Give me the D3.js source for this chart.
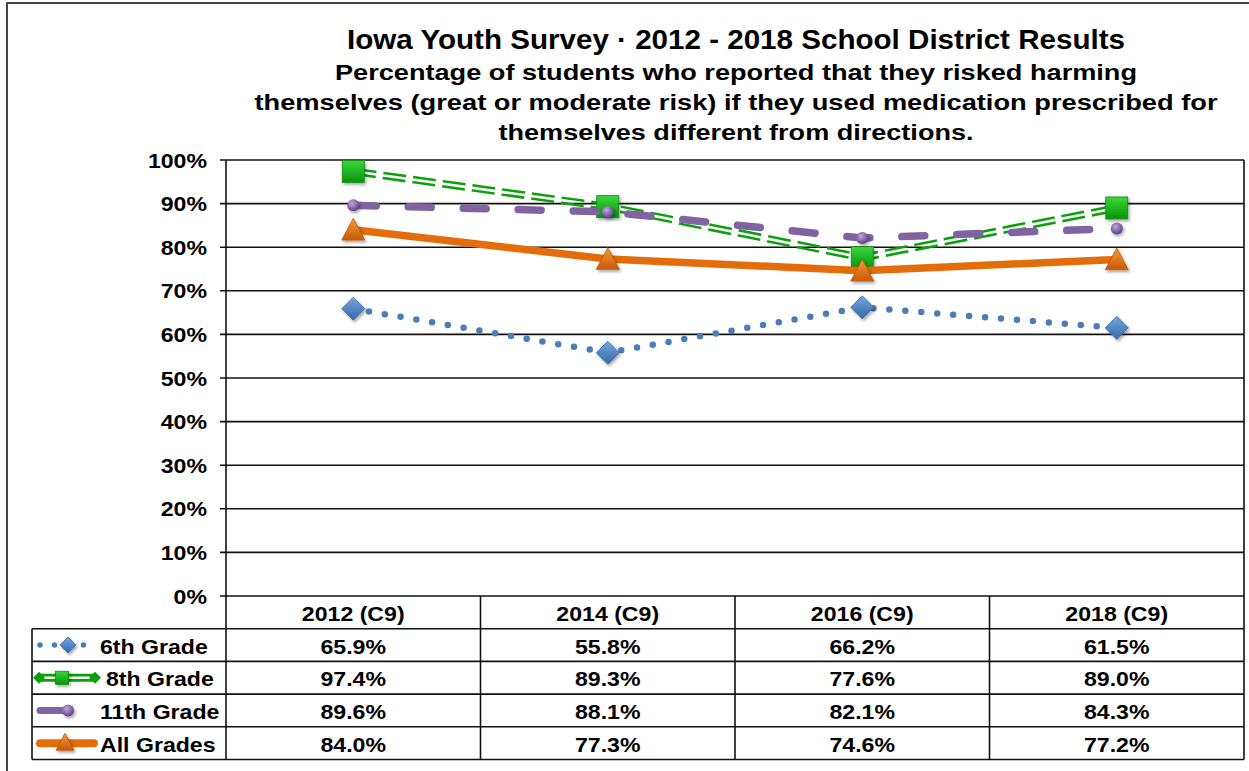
<!DOCTYPE html>
<html><head><meta charset="utf-8">
<script src="https://cdn.jsdelivr.net/npm/d3@7"></script>
<style>
html,body{margin:0;padding:0;background:#fff;}
svg text{font-family:"Liberation Sans",Arial,sans-serif;font-weight:bold;fill:#000;}
</style></head>
<body>
<svg id="chart" width="1249" height="771"></svg>
<script>
// ---- data ----
const categories = ["2012 (C9)", "2014 (C9)", "2016 (C9)", "2018 (C9)"];
const seriesNames = ["6th Grade", "8th Grade", "11th Grade", "All Grades"];
const grade6 = [65.9, 55.8, 66.2, 61.5];
const grade8 = [97.4, 89.3, 77.6, 89.0];
const grade11 = [89.6, 88.1, 82.1, 84.3];
const allGrades = [84.0, 77.3, 74.6, 77.2];
const yTicks = [0, 10, 20, 30, 40, 50, 60, 70, 80, 90, 100];
const titleLines = [
  "Iowa Youth Survey · 2012 - 2018 School District Results",
  "Percentage of students who reported that they risked harming",
  "themselves (great or moderate risk) if they used medication prescribed for",
  "themselves different from directions."
];

const seriesValues = [grade6, grade8, grade11, allGrades];

// ---- layout ----
const svg = d3.select("#chart");
const plotL = 226, plotR = 1244, plotT = 160, plotB = 596;
const tableL = 32, rowH = 32.7;
const stretch = 1.1;

const x = d3.scaleBand().domain(categories).range([plotL, plotR]);
const y = d3.scaleLinear().domain([0, 100]).range([plotB, plotT]);

function stretchText(sel, k) {
  sel.each(function() {
    const len = this.getComputedTextLength();
    d3.select(this).attr("textLength", len * k).attr("lengthAdjust", "spacingAndGlyphs");
  });
}

// defs
const defs = svg.append("defs");
const sh = defs.append("filter").attr("id", "shadow").attr("x", "-50%").attr("y", "-50%").attr("width", "200%").attr("height", "200%");
sh.append("feDropShadow").attr("dx", 1.5).attr("dy", 2).attr("stdDeviation", 1.5).attr("flood-color", "#000").attr("flood-opacity", 0.35);
function grad(id, c1, c2) {
  const g = defs.append("linearGradient").attr("id", id).attr("x1", 0).attr("y1", 0).attr("x2", 0).attr("y2", 1);
  g.append("stop").attr("offset", "0%").attr("stop-color", c1);
  g.append("stop").attr("offset", "100%").attr("stop-color", c2);
}
grad("gBlue", "#78a7e0", "#3566a8");
grad("gGreen", "#3cd63c", "#089408");
grad("gPurple", "#a88ccc", "#5d4585");
grad("gOrange", "#f59a40", "#c85a05");
const rg = defs.append("radialGradient").attr("id", "gPurpleR").attr("cx", "40%").attr("cy", "35%").attr("r", "65%");
rg.append("stop").attr("offset", "0%").attr("stop-color", "#c2a8e2");
rg.append("stop").attr("offset", "100%").attr("stop-color", "#5a4282");

// outer frame
svg.append("path").attr("d", `M7,771 L7,3 L1249,3`).attr("fill", "none").attr("stroke", "#444").attr("stroke-width", 2);

// title
const titleY = [39, 72, 102, 132];
const titleW = [778, 802, 963, 475];
const titleF = [28, 22, 22, 22];
titleLines.forEach((t, i) => {
  svg.append("text").attr("x", 736).attr("y", titleY[i]).attr("text-anchor", "middle")
    .attr("dominant-baseline", "central").attr("font-size", titleF[i])
    .attr("textLength", titleW[i]).attr("lengthAdjust", "spacingAndGlyphs").text(t);
});

// gridlines
svg.append("g").selectAll("line").data(yTicks).join("line")
  .attr("x1", plotL - 6).attr("x2", plotR).attr("y1", d => y(d)).attr("y2", d => y(d))
  .attr("stroke", "#111").attr("stroke-width", 1.6);

// y labels
svg.append("g").selectAll("text").data(yTicks).join("text")
  .attr("x", 207).attr("y", d => y(d)).attr("text-anchor", "end").attr("dominant-baseline", "central")
  .attr("font-size", 21).text(d => d + "%").call(stretchText, stretch);

// table
const nRows = seriesNames.length;
const tableB = plotB + rowH * (nRows + 1);
const rowLines = d3.range(1, nRows + 2).map(i => plotB + rowH * i);
svg.append("g").selectAll("line").data(rowLines).join("line")
  .attr("x1", tableL).attr("x2", plotR).attr("y1", d => d).attr("y2", d => d)
  .attr("stroke", "#111").attr("stroke-width", 1.6);
// vertical lines
svg.append("line").attr("x1", plotL).attr("x2", plotL).attr("y1", plotT).attr("y2", tableB).attr("stroke", "#111").attr("stroke-width", 1.6);
svg.append("line").attr("x1", plotR).attr("x2", plotR).attr("y1", plotT).attr("y2", tableB).attr("stroke", "#111").attr("stroke-width", 1.6);
svg.append("line").attr("x1", tableL).attr("x2", tableL).attr("y1", plotB + rowH).attr("y2", tableB).attr("stroke", "#111").attr("stroke-width", 1.6);
svg.append("g").selectAll("line").data(categories.slice(1)).join("line")
  .attr("x1", d => x(d)).attr("x2", d => x(d)).attr("y1", plotB).attr("y2", tableB)
  .attr("stroke", "#111").attr("stroke-width", 1.6);

// header text
svg.append("g").selectAll("text").data(categories).join("text")
  .attr("x", d => x(d) + x.bandwidth() / 2).attr("y", plotB + rowH / 2 + 1)
  .attr("text-anchor", "middle").attr("dominant-baseline", "central").attr("font-size", 21)
  .text(d => d).call(stretchText, stretch);

// values text
seriesValues.forEach((vals, si) => {
  svg.append("g").selectAll("text").data(vals).join("text")
    .attr("x", (d, i) => x(categories[i]) + x.bandwidth() / 2)
    .attr("y", plotB + rowH * (si + 1.5) + 1)
    .attr("text-anchor", "middle").attr("dominant-baseline", "central").attr("font-size", 21)
    .text(d => d.toFixed(1) + "%").call(stretchText, stretch);
});

// ---- series drawing ----
const line = d3.line().x((d, i) => x(categories[i]) + x.bandwidth() / 2).y(d => y(d));
const cx = i => x(categories[i]) + x.bandwidth() / 2;

function diamond(g, px, py, s, fill) {
  g.append("path").attr("d", `M${px},${py - s} L${px + s},${py} L${px},${py + s} L${px - s},${py} Z`)
    .attr("fill", fill).attr("stroke", "#3a6aa8").attr("stroke-width", 0.8).attr("filter", "url(#shadow)");
}
function square(g, px, py, s, fill) {
  g.append("rect").attr("x", px - s).attr("y", py - s).attr("width", 2 * s).attr("height", 2 * s)
    .attr("fill", fill).attr("stroke", "#0a8a0a").attr("stroke-width", 0.8).attr("filter", "url(#shadow)");
}
function circle(g, px, py, r, fill) {
  g.append("circle").attr("cx", px).attr("cy", py).attr("r", r).attr("fill", fill).attr("filter", "url(#shadow)");
}
function triangle(g, px, py, s, fill) {
  g.append("path").attr("d", `M${px},${py - s} L${px + s},${py + s * 0.9} L${px - s},${py + s * 0.9} Z`)
    .attr("fill", fill).attr("stroke", "#b85a10").attr("stroke-width", 0.8).attr("filter", "url(#shadow)");
}

// mask for double line (8th grade)
const maskD = line(grade8);
const mask = defs.append("mask").attr("id", "dblMask").attr("maskUnits", "userSpaceOnUse")
  .attr("x", 0).attr("y", 0).attr("width", 1249).attr("height", 771);
mask.append("path").attr("d", maskD).attr("fill", "none").attr("stroke", "#fff").attr("stroke-width", 12);
mask.append("path").attr("d", maskD).attr("fill", "none").attr("stroke", "#000").attr("stroke-width", 2.6);

const gS = svg.append("g");
// 6th grade
const g6 = gS.append("g");
g6.append("path").attr("d", line(grade6)).attr("fill", "none").attr("stroke", "#4a7ebb")
  .attr("stroke-width", 6.5).attr("stroke-linecap", "round").attr("stroke-dasharray", "0 16");
grade6.forEach((v, i) => diamond(g6, cx(i), y(v), 11.5, "url(#gBlue)"));

// 8th grade
const g8 = gS.append("g");
g8.append("path").attr("d", line(grade8)).attr("fill", "none").attr("stroke", "#0aa00a")
  .attr("stroke-width", 7.6).attr("stroke-dasharray", "23 7").attr("mask", "url(#dblMask)");
grade8.forEach((v, i) => square(g8, cx(i), y(v), 11, "url(#gGreen)"));

// 11th grade
const g11 = gS.append("g");
g11.append("path").attr("d", line(grade11)).attr("fill", "none").attr("stroke", "#8064a2")
  .attr("stroke-width", 7.5).attr("stroke-linecap", "round").attr("stroke-dasharray", "23 32");
grade11.forEach((v, i) => circle(g11, cx(i), y(v), 6, "url(#gPurpleR)"));

// all grades
const gA = gS.append("g");
gA.append("path").attr("d", line(allGrades)).attr("fill", "none").attr("stroke", "#e46c0a")
  .attr("stroke-width", 7.5).attr("stroke-linejoin", "round");
allGrades.forEach((v, i) => triangle(gA, cx(i), y(v), 11.5, "url(#gOrange)"));

// ---- legend keys in table ----
const rowC = i => plotB + rowH * (i + 1.5);
const gL = svg.append("g");
// 6th
gL.append("line").attr("x1", 40).attr("x2", 88).attr("y1", rowC(0)).attr("y2", rowC(0))
  .attr("stroke", "#4a7ebb").attr("stroke-width", 5.5).attr("stroke-linecap", "round").attr("stroke-dasharray", "0 14.5");
diamond(gL, 68, rowC(0), 8, "url(#gBlue)");
// 8th
const r8 = rowC(1);
gL.append("rect").attr("x", 38).attr("y", r8 - 4).attr("width", 58).attr("height", 8).attr("fill", "#0aa00a");
gL.append("rect").attr("x", 38).attr("y", r8 - 1.2).attr("width", 58).attr("height", 2.4).attr("fill", "#fff");
gL.append("path").attr("d", `M33,${r8} L39,${r8 - 6} L45,${r8} L39,${r8 + 6} Z`).attr("fill", "#0aa00a");
gL.append("path").attr("d", `M89,${r8} L95,${r8 - 6} L101,${r8} L95,${r8 + 6} Z`).attr("fill", "#0aa00a");
square(gL, 62, r8, 6.5, "url(#gGreen)");
// 11th
gL.append("line").attr("x1", 40).attr("x2", 68).attr("y1", rowC(2)).attr("y2", rowC(2))
  .attr("stroke", "#8064a2").attr("stroke-width", 7).attr("stroke-linecap", "round");
circle(gL, 68, rowC(2), 6, "url(#gPurpleR)");
// all
gL.append("line").attr("x1", 40).attr("x2", 94).attr("y1", rowC(3)).attr("y2", rowC(3))
  .attr("stroke", "#e46c0a").attr("stroke-width", 8).attr("stroke-linecap", "round");
triangle(gL, 65, rowC(3) - 1, 9, "url(#gOrange)");

const legendX = [100, 106, 100, 100];
svg.append("g").selectAll("text").data(seriesNames).join("text")
  .attr("x", (d, i) => legendX[i]).attr("y", (d, i) => rowC(i) + 1)
  .attr("dominant-baseline", "central").attr("font-size", 21)
  .text(d => d).call(stretchText, stretch);
</script>
</body></html>
